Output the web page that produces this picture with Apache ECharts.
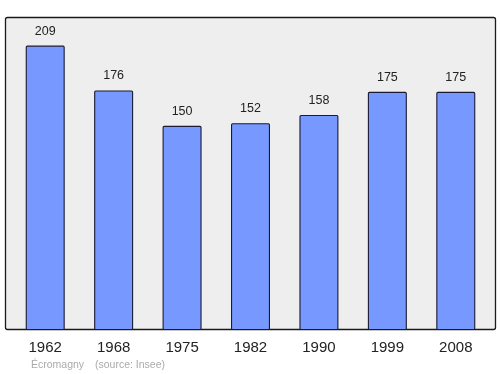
<!DOCTYPE html>
<html><head><meta charset="utf-8">
<script src="https://cdn.jsdelivr.net/npm/echarts@6/dist/echarts.min.js"></script>
<style>html,body{margin:0;padding:0;background:#fff}#c{width:500px;height:374px}</style>
</head><body><div id="c"></div>
<script>
var categories = ['1962','1968','1975','1982','1990','1999','2008'];
var population = [209,176,150,152,158,175,175];
var footerName = 'Écromagny';
var footerSource = '(source: Insee)';

var chart = echarts.init(document.getElementById('c'), null, {renderer:'canvas'});
chart.setOption({
  animation:false,
  backgroundColor:'#ffffff',
  graphic:[
    {type:'rect', z:-10, shape:{x:5.5,y:17.5,width:490,height:312,r:2}, style:{fill:'#eeeeee',stroke:'#1a1a1a',lineWidth:1.3}},
    {type:'text', left:31, top:360, style:{text:footerName, fill:'#aaaaaa', font:'10.5px "Liberation Sans", Arial, sans-serif'}},
    {type:'text', left:95, top:360, style:{text:footerSource, fill:'#aaaaaa', font:'10.5px "Liberation Sans", Arial, sans-serif'}}
  ],
  grid:{left:11, top:17, width:479, height:313, containLabel:false},
  xAxis:{type:'category', data:categories, boundaryGap:true,
    axisLine:{show:false}, axisTick:{show:false},
    axisLabel:{color:'#222', fontSize:15, margin:10, fontFamily:'"Liberation Sans", Arial, sans-serif'}},
  yAxis:{type:'value', min:0, max:230, show:false, splitLine:{show:false}},
  series:[{type:'bar', data:population, barWidth:39,
    itemStyle:{color:'#7799ff', borderColor:'#1a1a33', borderWidth:1.1, borderRadius:1},
    label:{show:true, position:'top', distance:8, color:'#222', fontSize:12.5, fontFamily:'"Liberation Sans", Arial, sans-serif'}}]
});
</script></body></html>
